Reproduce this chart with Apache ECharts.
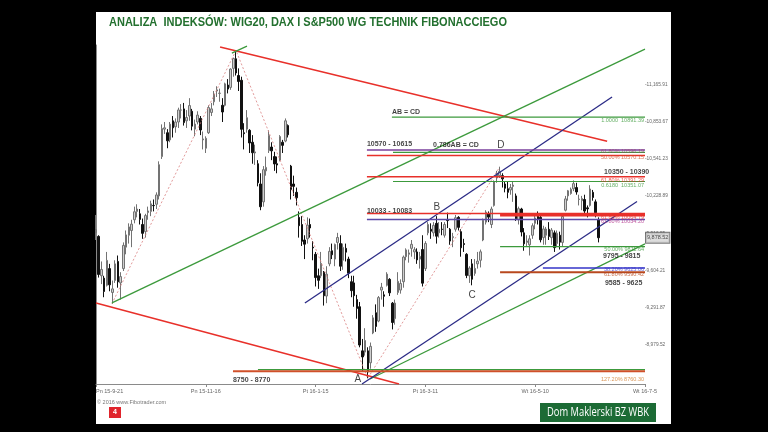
<!DOCTYPE html>
<html><head><meta charset="utf-8">
<script src="https://cdn.jsdelivr.net/npm/echarts@6/dist/echarts.min.js"></script>
<style>
html,body{margin:0;padding:0;background:#000;}
#panel{position:absolute;left:96px;top:12px;width:575px;height:412px;background:#fff;}
#c{position:absolute;left:0;top:0;width:768px;height:432px;}
</style></head><body><div id="panel"></div><div id="c"></div>
<script>
// ---- categories (trading days, future days to the right edge) ----
const dates = [
'15-9-21','15-9-22','15-9-23','15-9-24','15-9-25','15-9-28','15-9-29','15-9-30',
'15-10-1','15-10-2','15-10-5','15-10-6','15-10-7','15-10-8','15-10-9','15-10-12','15-10-13','15-10-14','15-10-15','15-10-16','15-10-19','15-10-20','15-10-21','15-10-22','15-10-23','15-10-26','15-10-27','15-10-28','15-10-29','15-10-30',
'15-11-2','15-11-3','15-11-4','15-11-5','15-11-6','15-11-9','15-11-10','15-11-11','15-11-12','15-11-13','15-11-16','15-11-17','15-11-18','15-11-19','15-11-20','15-11-23','15-11-24','15-11-25','15-11-26','15-11-27','15-11-30',
'15-12-1','15-12-2','15-12-3','15-12-4','15-12-7','15-12-8','15-12-9','15-12-10','15-12-11','15-12-14','15-12-15','15-12-16','15-12-17','15-12-18','15-12-21','15-12-22','15-12-23','15-12-28','15-12-29','15-12-30',
'16-1-4','16-1-5','16-1-6','16-1-7','16-1-8','16-1-11','16-1-12','16-1-13','16-1-14','16-1-15','16-1-18','16-1-19','16-1-20','16-1-21','16-1-22','16-1-25','16-1-26','16-1-27','16-1-28','16-1-29',
'16-2-1','16-2-2','16-2-3','16-2-4','16-2-5','16-2-8','16-2-9','16-2-10','16-2-11','16-2-12','16-2-15','16-2-16','16-2-17','16-2-18','16-2-19','16-2-22','16-2-23','16-2-24','16-2-25','16-2-26','16-2-29',
'16-3-1','16-3-2','16-3-3','16-3-4','16-3-7','16-3-8','16-3-9','16-3-10','16-3-11','16-3-14','16-3-15','16-3-16','16-3-17','16-3-18','16-3-21','16-3-22','16-3-23','16-3-24','16-3-29','16-3-30','16-3-31',
'16-4-1','16-4-4','16-4-5','16-4-6','16-4-7','16-4-8','16-4-11','16-4-12','16-4-13','16-4-14','16-4-15','16-4-18','16-4-19','16-4-20','16-4-21','16-4-22','16-4-25','16-4-26','16-4-27','16-4-28','16-4-29',
'16-5-2','16-5-3','16-5-4','16-5-5','16-5-6','16-5-9','16-5-10','16-5-11','16-5-12','16-5-13','16-5-16','16-5-17','16-5-18','16-5-19','16-5-20','16-5-23','16-5-24','16-5-25','16-5-26','16-5-27','16-5-30','16-5-31',
'16-6-1','16-6-2','16-6-3','16-6-6','16-6-7','16-6-8','16-6-9','16-6-10',
'16-6-13','16-6-14','16-6-15','16-6-16','16-6-17','16-6-20','16-6-21','16-6-22','16-6-23','16-6-24','16-6-27','16-6-28','16-6-29','16-6-30','16-7-1','16-7-4','16-7-5'
];
// ---- candles: [open, close, low, high] ----
const candles = [
[9920,9948,9860,10070],[9890,9571,9545,9900],[9560,9613,9490,9680],[9540,9428,9380,9560],[9480,9689,9470,9760],[9620,9484,9430,9660],[9420,9450,9325,9520],[9520,9660,9500,9690],
[9680,9509,9460,9730],[9500,9553,9360,9590],[9620,9815,9600,9840],[9800,9903,9740,9940],[9900,9970,9830,10000],[9940,9993,9800,10030],[10030,10097,10000,10140],[10100,10120,10050,10160],[10080,10033,9990,10120],[9990,9916,9870,10040],[9930,10065,9880,10080],[10090,10104,10030,10140],[10100,10164,10060,10190],[10150,10148,10100,10200],[10160,10238,10120,10260],[10230,10492,10200,10520],[10560,10795,10540,10830],[10790,10801,10750,10850],[10760,10692,10630,10790],[10700,10832,10680,10850],[10860,10801,10720,10900],[10810,10850,10760,10880],
[10850,10951,10800,10970],[10950,10951,10880,11000],[10960,10845,10820,11010],[10860,10888,10800,10950],[10900,10988,10860,11050],[10940,10815,10780,10960],[10790,10833,10730,10870],[10850,10908,10830,10940],[10880,10783,10740,10900],[10700,10708,10620,10770],[10630,10713,10590,10730],[10760,10971,10750,10990],[10930,10960,10900,11010],[11020,11085,10990,11110],[11110,11120,11060,11150],[11090,11092,11020,11130],[10990,10934,10850,11050],[10990,11170,10980,11180],[11160,11126,11090,11210],[11140,11294,11120,11300],[11300,11382,11230,11390],
[11380,11261,11240,11450],[11240,11190,11110,11300],[11200,10789,10720,11230],[10760,10752,10620,10840],[10790,10886,10760,10950],[10780,10674,10590,10790],[10680,10592,10500,10740],[10590,10599,10490,10660],[10500,10340,10310,10530],[10330,10139,10110,10420],[10180,10450,10140,10480],[10440,10469,10400,10560],[10610,10738,10590,10780],[10640,10608,10530,10680],[10560,10498,10440,10600],[10500,10489,10420,10560],[10530,10728,10520,10740],[10680,10654,10590,10700],[10690,10860,10680,10880],[10820,10743,10720,10830],
[10480,10283,10200,10490],[10330,10310,10230,10400],[10260,10214,10150,10300],[10050,9980,9880,10100],[9990,9849,9810,10060],[9860,9825,9700,9900],[9870,9985,9830,10050],[9990,9961,9880,10040],[9800,9794,9690,9850],[9740,9545,9470,9760],[9560,9522,9450,9620],[9560,9664,9540,9760],[9590,9392,9310,9600],[9390,9574,9330,9640],[9660,9765,9640,9800],[9770,9736,9700,9830],[9700,9823,9640,9830],[9840,9881,9780,9920],[9830,9640,9600,9900],[9690,9798,9610,9830],
[9790,9758,9680,9830],[9700,9581,9540,9720],[9510,9435,9380,9560],[9500,9393,9300,9560],[9360,9286,9200,9400],[9300,8979,8960,9340],[8930,8879,8760,9030],[8920,9017,8890,9120],[8930,8753,8700,8960],[8830,8968,8780,9000],[9080,9207,9070,9230],[9250,9135,9090,9320],[9180,9377,9170,9390],[9440,9464,9360,9500],[9400,9388,9300,9430],[9480,9574,9470,9590],[9530,9417,9390,9540],[9330,9168,9110,9340],[9200,9331,9150,9360],[9420,9513,9400,9590],[9440,9495,9410,9530],
[9510,9717,9460,9730],[9720,9777,9690,9790],[9740,9752,9670,9780],[9790,9824,9720,9860],[9760,9779,9700,9800],[9760,9693,9660,9790],[9700,9723,9620,9760],[9780,9498,9470,9900],[9620,9831,9600,9850],[9920,9990,9900,10010],[9950,9934,9870,10000],[9920,9983,9890,10010],[10000,9892,9830,10060],[9920,9951,9880,10010],[9950,9949,9900,10010],[9900,9990,9880,10010],[10030,10023,9960,10090],[9950,9851,9820,9960],[9880,9888,9800,9920],[9950,10047,9930,10070],[10050,9966,9940,10060],
[9930,9795,9720,9950],[9830,9822,9760,9870],[9740,9563,9540,9750],[9560,9625,9500,9640],[9660,9531,9480,9700],[9580,9622,9560,9700],[9660,9683,9620,9760],[9690,9761,9630,9780],[9860,10026,9850,10040],[10010,10094,9990,10110],[10080,10052,10010,10100],[9990,10120,9960,10140],[10150,10350,10140,10360],[10380,10421,10340,10440],[10400,10436,10380,10475],[10400,10373,10300,10420],[10330,10294,10260,10350],[10290,10260,10210,10350],[10280,10300,10240,10330],[10310,10321,10180,10350],[10230,10039,10020,10250],
[10030,10123,9990,10140],[10120,9927,9890,10130],[9920,9828,9770,9960],[9840,9852,9810,9900],[9820,9870,9730,9900],[9900,9980,9870,10000],[10000,10045,9950,10080],[10060,10036,9990,10100],[10050,9862,9840,10070],[9880,9953,9820,9980],[9900,9952,9820,9970],[9950,9890,9860,10010],[9880,9943,9820,9960],[9920,9796,9760,9940],[9830,9916,9800,9940],[9900,9842,9780,9930],[9840,10057,9810,10070],[10110,10205,10100,10230],[10230,10273,10190,10280],[10250,10286,10240,10300],[10290,10333,10270,10360],[10300,10263,10240,10340],
[10200,10204,10150,10240],[10190,10208,10110,10230],[10200,10103,10080,10240],[10130,10121,10050,10150],[10150,10288,10140,10320],[10260,10217,10190,10280],[10180,10089,10050,10200],[10030,9879,9840,10050]
];
// ---- axis ticks ----
const xTickDates  = ['15-9-21','15-11-16','16-1-15','16-3-11','16-5-10','16-7-5'];
const xTickLabels = ['Pn 15-9-21','Pn 15-11-16','Pt 16-1-15','Pt 16-3-11','Wt 16-5-10','Wt 16-7-5'];
const yTicks = [8979.52, 9291.87, 9604.21, 9916.55, 10228.89, 10541.23, 10853.67, 11165.91];
const lastPrice = 9878.52;
// ---- drawings in data coordinates [bar index, value] ----
const zigzag = [[5.8,9325],[51,11450],[99,8700],[147,10470]];
const trendRedUpper  = [[45.2,11479],[186.2,10689]];
const trendRedLower  = [[0,9332],[110.4,8652]];
const trendGreenLong = [[5.8,9332],[200,11462]];
const trendGreenPeak = [[49.5,11428],[55,11487]];
const trendGreenLow  = [[99.8,8694],[200,9827]];
const trendBlueUpper = [[76.1,9332],[188,11060]];
const trendBlueLower = [[96.9,8652],[197.1,10183]];
// horizontal levels: value and the bar where each starts
const levelValues = [10891.39, 10615, 10595, 10570, 10390, 10351, 10083, 10070, 10033, 9805, 9625, 9590, 8772, 8760];
const levelFrom   = [107.8, 98.7, 108.2, 98.7, 98.7, 108.2, 98.7, 147.2, 98.7, 147.2, 162.8, 147.2, 59, 49.9];
// zone texts
const zoneTexts   = ['AB = CD','10570 - 10615','0.786AB = CD','10350 - 10390','10033 - 10083','9795 - 9815','9585 - 9625','8750 - 8770'];
const zoneAnchors = [[107.8,10934],[98.7,10665],[122.8,10657],[185.1,10430],[98.7,10103],[184.7,9725],[185.4,9499],[49.9,8686]];
const waveTexts   = ['A','B','C','D'];
const waveAnchors = [[95.4,8694],[124.2,10137],[137,9396],[147.5,10653]];
const fibTexts    = ['1.0000  10891.39','61.80% 10596.19','50.00% 10570.15','61.80% 10391.29','0.6180  10351.07','61.80% 10064.79','61.80% 10034.20','50.00% 9811.64','38.20% 9625.06','61.80% 9590.42','127.20% 8760.30'];
const fibValues   = [10866, 10606, 10556, 10363, 10321, 10053, 10019, 9777, 9609, 9567, 8694];

// ---- styles ----
const RED='#e8302a', GREEN='#3c9a3c', NAVY='#2b2b86', PURPLE='#7a3f9d', BLUE='#3434c8', BROWN='#b8481e';
const levelColors = [GREEN, PURPLE, GREEN, RED, RED, GREEN, RED, RED, '#5b4aa8', GREEN, BLUE, BROWN, GREEN, '#d0502a'];
const levelWidths = [1.2, 1.5, 1.2, 1.5, 1.5, 1.2, 1.5, 3, 1.5, 1.2, 1.5, 2, 1.2, 2];
const fibColors = [GREEN, '#9a4a70', '#d0502a', RED, GREEN, RED, '#b0308a', GREEN, BLUE, BROWN, '#d07a2a'];

function seg(data, color, width, type){
  return {type:'line', xAxisIndex:1, yAxisIndex:0, data:data, showSymbol:false, symbol:'none',
    silent:true, animation:false, z:3, lineStyle:{color:color, width:width, type:type||'solid'}};
}
const series = [];
series.push({type:'candlestick', data:candles, barWidth:2, z:2,
  itemStyle:{color:'#cfcfcf', color0:'#111', borderColor:'#737373', borderColor0:'#111', borderWidth:1}});
series.push(seg(zigzag, '#d98080', 0.8, [2,2]));
series.push(seg(trendRedUpper, RED, 1.5));
series.push(seg(trendRedLower, RED, 1.5));
series.push(seg(trendGreenLong, GREEN, 1.3));
series.push(seg(trendGreenPeak, GREEN, 1.3));
series.push(seg(trendGreenLow, GREEN, 1.3));
series.push(seg(trendBlueUpper, NAVY, 1.3));
series.push(seg(trendBlueLower, NAVY, 1.3));
levelValues.forEach(function(v,k){
  series.push(seg([[levelFrom[k], v],[200, v]], levelColors[k], levelWidths[k]));
});
series.push({type:'scatter', xAxisIndex:1, yAxisIndex:0, symbolSize:0, silent:true, clip:false, z:5,
  data: zoneTexts.map(function(t,k){return [zoneAnchors[k][0], zoneAnchors[k][1], t];}),
  label:{show:true, position:'right', distance:0, formatter:function(p){return p.data[2];},
    color:'#111', fontSize:7, fontFamily:'Liberation Sans', fontWeight:'bold'}});
series.push({type:'scatter', xAxisIndex:1, yAxisIndex:0, symbolSize:0, silent:true, clip:false, z:5,
  data: waveTexts.map(function(t,k){return [waveAnchors[k][0], waveAnchors[k][1], t];}),
  label:{show:true, position:'inside', formatter:function(p){return p.data[2];},
    color:'#111', fontSize:10, fontFamily:'Liberation Sans'}});
series.push({type:'scatter', xAxisIndex:1, yAxisIndex:0, symbolSize:0, silent:true, clip:false, z:5,
  data: fibTexts.map(function(t,k){return {value:[200, fibValues[k], t], label:{color:fibColors[k]}};}),
  label:{show:true, position:'left', distance:1, formatter:function(p){return p.data.value[2];},
    fontSize:5.5, fontFamily:'Liberation Sans'}});
series.push({type:'scatter', xAxisIndex:1, yAxisIndex:0, symbolSize:0, silent:true, clip:false, z:6,
  data:[[200, lastPrice]],
  label:{show:true, position:'right', distance:1,
    formatter:function(p){return p.data[1].toLocaleString('en-US',{minimumFractionDigits:2});},
    fontSize:5.5, fontFamily:'Liberation Sans', color:'#222', backgroundColor:'#d4d4d4', borderColor:'#555', borderWidth:1, padding:[2,1,2,1]}});

// text scale helpers
const mctx = document.createElement('canvas').getContext('2d');
function fitScale(text, font, target){ mctx.font = font; return target / mctx.measureText(text).width; }
const titleText = 'ANALIZA  INDEKSÓW: WIG20, DAX I S&P500 WG TECHNIK FIBONACCIEGO';
const titleFont = 'bold 13px "Liberation Sans"';
const brandText = 'Dom Maklerski BZ WBK';
const brandFont = '12px "Open Sans"';

const chart = echarts.init(document.getElementById('c'), null, {renderer:'canvas'});
chart.setOption({
  animation:false,
  backgroundColor:'transparent',
  grid:{left:96, right:123, top:45, bottom:48, containLabel:false},
  xAxis:[
    {type:'category', data:dates, boundaryGap:false,
     axisLine:{lineStyle:{color:'#8a8a8a', width:1}},
     axisTick:{show:true, length:3, interval:function(i,v){return xTickDates.indexOf(v)>=0;}, lineStyle:{color:'#8a8a8a'}},
     axisLabel:{interval:function(i,v){return xTickDates.indexOf(v)>=0;},
       formatter:function(v){var k=xTickDates.indexOf(v); return k>=0?xTickLabels[k]:'';},
       fontSize:5.5, color:'#666', margin:4, alignMinLabel:'left', fontFamily:'Liberation Sans'},
     splitLine:{show:false}},
    {type:'value', min:0, max:200, show:false}
  ],
  yAxis:[{type:'value', position:'right', min:8652, max:11496,
     axisLine:{show:true, lineStyle:{color:'#8a8a8a'}},
     axisTick:{show:false},
     axisLabel:{customValues:yTicks, fontSize:4.8, color:'#666', margin:0, fontFamily:'Liberation Sans',
       formatter:function(v){return '-' + v.toLocaleString('en-US',{minimumFractionDigits:2, maximumFractionDigits:2});}},
     splitLine:{show:false}}],
  graphic:[
    {type:'text', x:109, y:22, scaleX:fitScale(titleText, titleFont, 398), z:10,
     style:{text:titleText, font:titleFont, fill:'#23702f', verticalAlign:'middle'}},
    {type:'text', x:97, y:402, z:10, style:{text:'© 2016 www.Fibotrader.com', font:'5.5px "Liberation Sans"', fill:'#777', verticalAlign:'middle'}},
    {type:'rect', shape:{x:109, y:407, width:12, height:11}, z:10, style:{fill:'#e0242c'}},
    {type:'text', x:115, y:412.5, z:11, style:{text:'4', font:'bold 7px "Liberation Sans"', fill:'#fff', align:'center', verticalAlign:'middle'}},
    {type:'rect', shape:{x:540, y:403, width:116, height:19}, z:10, style:{fill:'#1c6b35'}},
    {type:'text', x:547, y:412.5, scaleX:fitScale(brandText, brandFont, 102), z:11,
     style:{text:brandText, font:brandFont, fill:'#fff', verticalAlign:'middle'}}
  ],
  series:series
});
</script></body></html>
